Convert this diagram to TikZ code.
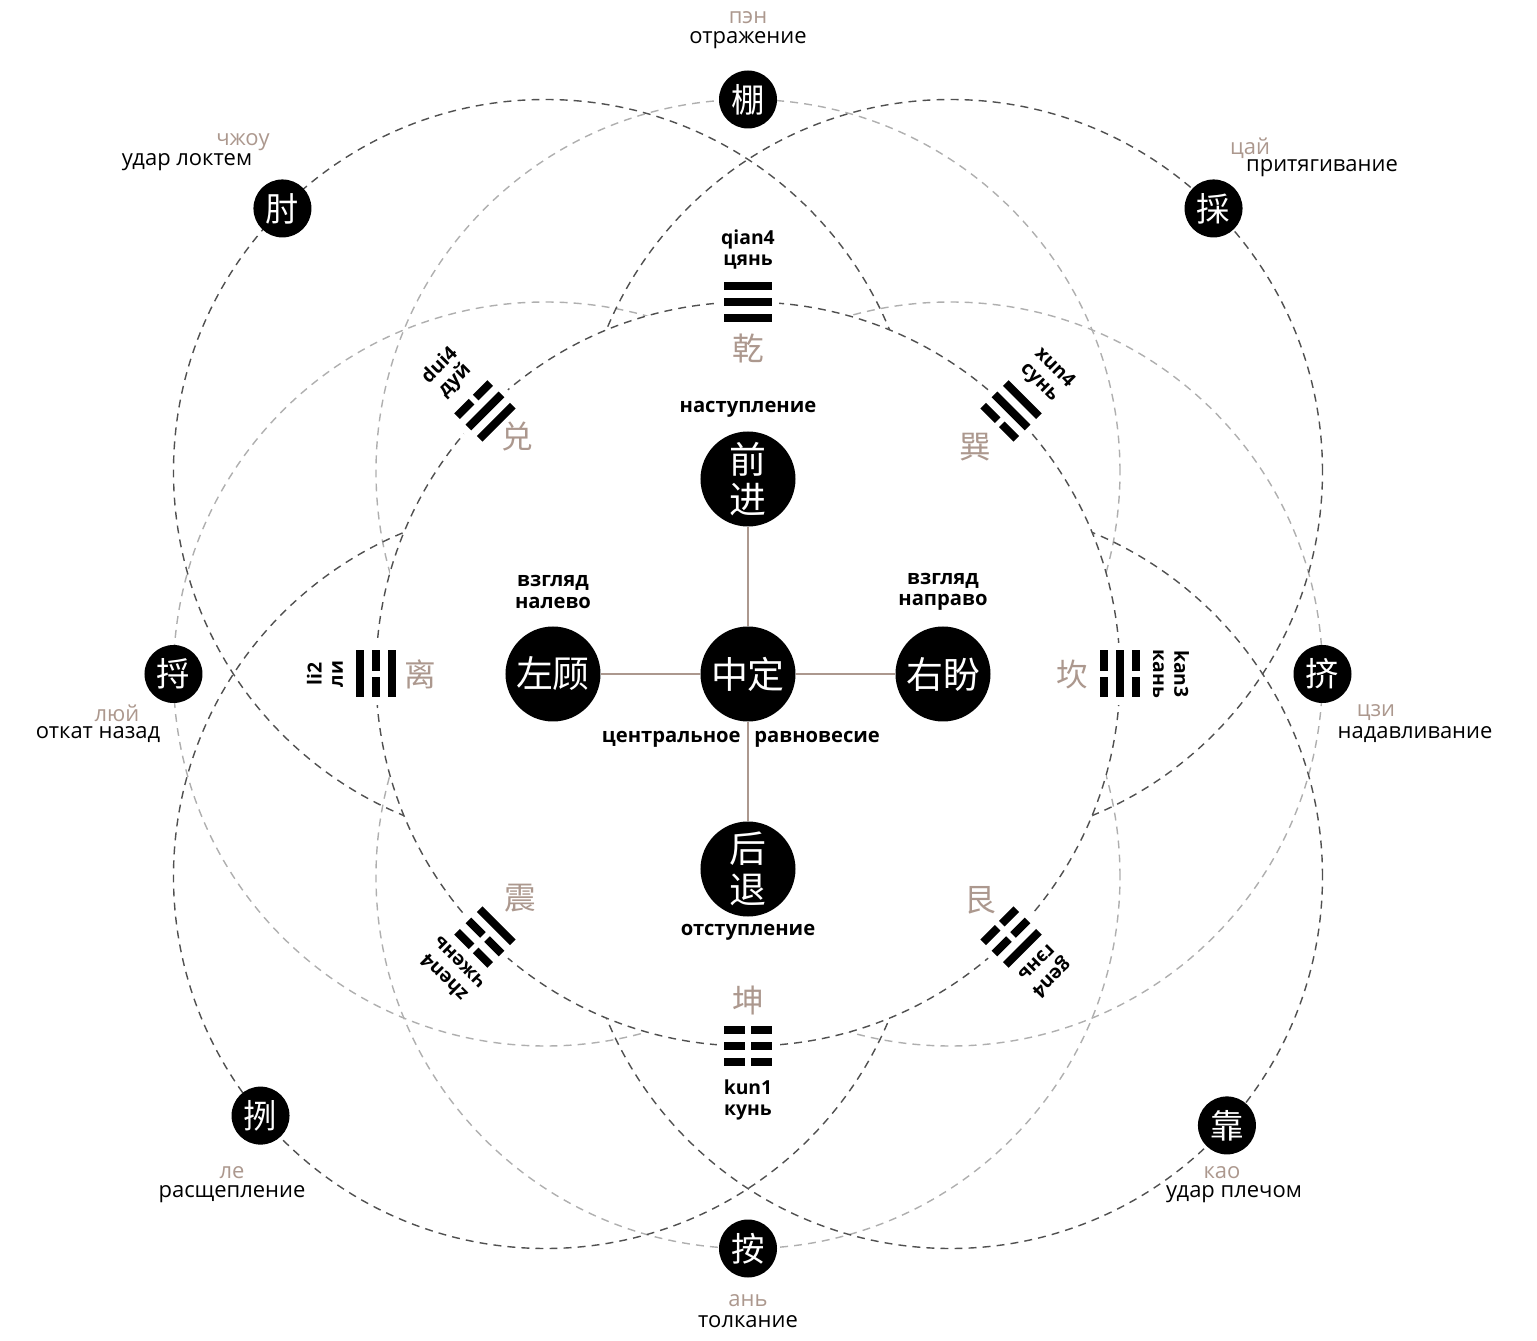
\documentclass[tikz,border=0pt]{standalone}
\usepackage{fontspec}
\setmainfont{Open Sans}
\newfontfamily\cjk{Noto Sans CJK SC}
\usepackage{tikz}
\usetikzlibrary{positioning, calc}
\definecolor{taupe}{RGB}{172,152,142}
\definecolor{darkdash}{RGB}{80,80,80}
\definecolor{lightdash}{RGB}{175,175,175}
\tikzset{%
  bigdot/.style    = {circle, fill=black, minimum size=1.9cm, inner sep=0pt,
    text=white, align=center, font=\cjk\fontsize{21}{23}\selectfont},
  smalldot/.style  = {circle, fill=black, minimum size=1.16cm, inner sep=0pt,
    text=white, font=\cjk\fontsize{19}{19}\selectfont},
  ring/.style      = {darkdash, dash pattern=on 4.5pt off 3.5pt, line width=0.8pt},
  faintring/.style = {ring, lightdash}, % axis circles
  link/.style      = {taupe, line width=1.1pt},
  gname/.style     = {text=taupe, font=\cjk\fontsize{18}{18}\selectfont},
  tag/.style       = {inner sep=0pt, font=\fontsize{12.5}{12}\selectfont},
  pin/.style       = {tag, text=taupe},
  caption/.style   = {inner sep=0pt, align=center, font=\bfseries\fontsize{11.5}{12}\selectfont},
  glabel/.style    = {inner sep=0pt, align=center, font=\bfseries\fontsize{11}{12}\selectfont}
}
% one line of a trigram: #1 offset, #2 = 1 solid / 0 broken
\newcommand{\yao}[2]{%
  \ifnum#2=1 \fill (-0.47,#1-0.08) rectangle (0.47,#1+0.08);
  \else \fill (-0.47,#1-0.08) rectangle (-0.06,#1+0.08);
        \fill (0.06,#1-0.08) rectangle (0.47,#1+0.08); \fi}
% trigram on the big ring: #1 angle, #2 #3 #4 lines from outside in
\newcommand{\gua}[4]{%
  \begin{scope}[shift={(#1:7.44)}, rotate=#1-90]
    \fill[white] (-0.62,-0.55) rectangle (0.62,0.55);
    \yao{0.32}{#2} \yao{0}{#3} \yao{-0.32}{#4}
  \end{scope}}

\begin{document}
\begin{tikzpicture}[auto, node distance=2cm]
  \useasboundingbox (-14.96,-13.34) rectangle (15.78,13.48);

  % rings
  \draw[faintring] (0,4.05) circle (7.44);
  \draw[faintring] (0,-4.05) circle (7.44);
  \draw[faintring] (-4.05,0) circle (7.44);
  \draw[faintring] (4.05,0) circle (7.44);
  \draw[ring] (-4.05,4.05) circle (7.44);
  \draw[ring] (4.05,4.05) circle (7.44);
  \draw[ring] (4.05,-4.05) circle (7.44);
  \draw[ring] (-4.05,-4.05) circle (7.44);
  % inside of the big ring stays clear
  \fill[white] (0,0) circle (7.44);
  \draw[ring] (0,0) circle (7.44);

  % trigrams
  \gua{90}{1}{1}{1}
  \gua{135}{0}{1}{1}
  \gua{45}{1}{1}{0}
  \gua{180}{1}{0}{1}
  \gua{0}{0}{1}{0}
  \gua{225}{0}{0}{1}
  \gua{-45}{1}{0}{0}
  \gua{270}{0}{0}{0}

  \node[glabel] (qianl) at (90:8.48) {qian4\\цянь};
  \node[glabel, rotate=45] (duil) at (135:8.5) {dui4\\дуй};
  \node[glabel, rotate=-45] (xunl) at (45:8.45) {xun4\\сунь};
  \node[glabel, rotate=90] (lil) at (180:8.46) {li2\\ли};
  \node[glabel, rotate=-90] (kanl) at (0:8.46) {kan3\\кань};
  \node[glabel, rotate=135] (zhenl) at (225:8.4) {zhen4\\чжень};
  \node[glabel, rotate=-135] (genl) at (-45:8.4) {gen4\\гэнь};
  \node[glabel] (kunl) at (270:8.52) {kun1\\кунь};

  \node[gname] (qian) at (90:6.52) {乾};
  \node[gname] (dui) at (-4.62,4.74) {兑};
  \node[gname] (xun) at (4.54,4.54) {巽};
  \node[gname] (li) at (180:6.56) {离};
  \node[gname] (kan) at (0:6.48) {坎};
  \node[gname] (zhen) at (-4.56,-4.48) {震};
  \node[gname] (gen) at (4.64,-4.52) {艮};
  \node[gname] (kun) at (270:6.52) {坤};

  % centre
  \draw node at (0,0) [bigdot] (zd) {中定};
  \draw node [bigdot, above of=zd, node distance=3.9cm] (qj) {前\\进};
  \draw node [bigdot, below of=zd, node distance=3.9cm] (ht) {后\\退};
  \draw node [bigdot, left of=zd, node distance=3.9cm] (zg) {左顾};
  \draw node [bigdot, right of=zd, node distance=3.9cm] (yp) {右盼};

  \draw[link] (zd) -- (qj);
  \draw[link] (zd) -- (ht);
  \draw[link] (zd) -- (zg);
  \draw[link] (zd) -- (yp);

  \node[caption, above of=qj, node distance=1.4cm] (qjt) {наступление};
  \node[caption, below of=ht, node distance=1.26cm] (htt) {отступление};
  \node[caption, above of=zg, node distance=1.64cm] (zgt) {взгляд\\налево};
  \node[caption, above of=yp, node distance=1.64cm] (ypt) {взгляд\\направо};
  \node[caption, anchor=east] (zdl) at (-0.14,-1.3) {центральное};
  \node[caption, anchor=west] (zdr) at (0.12,-1.3) {равновесие};

  % eight hands
  \draw node at (0,11.49) [smalldot] (peng) {棚};
  \draw node at (11.49,0) [smalldot] (ji) {挤};
  \draw node at (0,-11.49) [smalldot] (an) {按};
  \draw node at (-11.49,0) [smalldot] (lu) {捋};
  \draw node at ($(-4.05,4.05)+(135:7.44)$) [smalldot] (zhou) {肘};
  \draw node at ($(4.05,4.05)+(45:7.44)$) [smalldot] (cai) {採};
  \draw node at ($(4.05,-4.05)+(-42:7.44)$) [smalldot] (kao) {靠};
  \draw node at ($(-4.05,-4.05)+(220:7.44)$) [smalldot] (lie) {挒};

  \node[pin] (pengp) at (0,13.12) {пэн};
  \node[tag] (pengt) at (0,12.68) {отражение};
  \node[pin] (zhoup) at (-10.1,10.64) {чжоу};
  \node[tag] (zhout) at (-11.22,10.24) {удар локтем};
  \node[pin] (caip) at (10.04,10.52) {цай};
  \node[tag] (cait) at (11.48,10.12) {притягивание};
  \node[pin] (jip) at (12.56,-0.78) {цзи};
  \node[tag] (jit) at (13.34,-1.22) {надавливание};
  \node[pin] (kaop) at (9.48,-9.98) {као};
  \node[tag] (kaot) at (9.72,-10.4) {удар плечом};
  \node[pin] (anp) at (0,-12.54) {ань};
  \node[tag] (ant) at (0,-12.96) {толкание};
  \node[pin] (liep) at (-10.32,-9.98) {ле};
  \node[tag] (liet) at (-10.32,-10.4) {расщепление};
  \node[pin] (lup) at (-12.62,-0.78) {люй};
  \node[tag] (lut) at (-13.0,-1.22) {откат назад};

\end{tikzpicture}
\end{document}
